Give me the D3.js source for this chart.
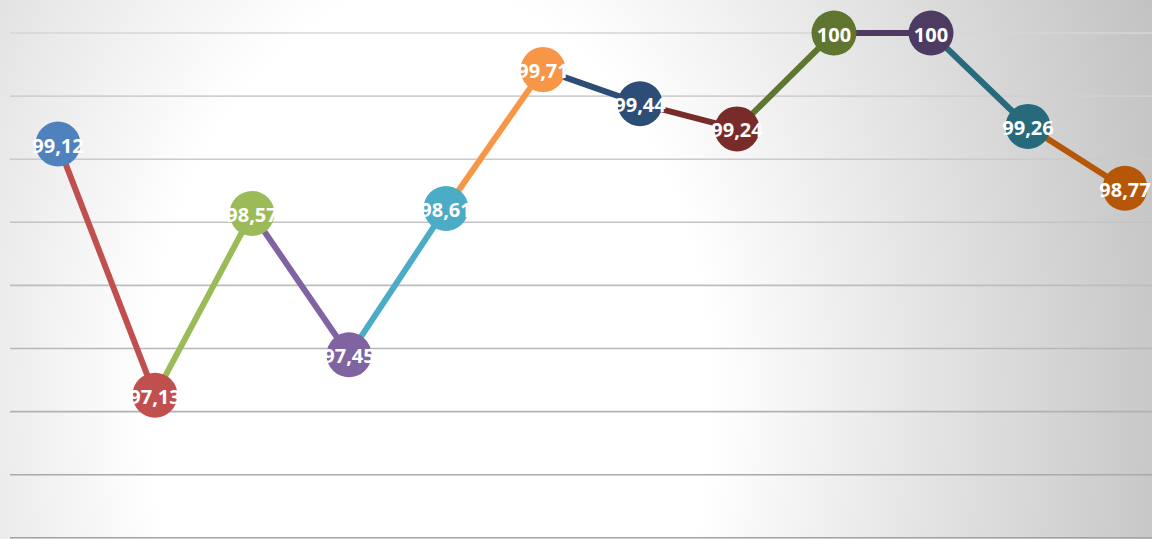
<!DOCTYPE html>
<html><head><meta charset="utf-8">
<script src="https://cdn.jsdelivr.net/npm/d3@7"></script>
<style>html,body{margin:0;padding:0;overflow:hidden;background:#fff}</style>
</head><body>
<svg id="chart" width="1152" height="539"></svg>
<script>
const categories = ["1","2","3","4","5","6","7","8","9","10","11","12"];
const values = [99.12, 97.13, 98.57, 97.45, 98.61, 99.71, 99.44, 99.24, 100, 100, 99.26, 98.77];
const pointColors = ["#4F81BD","#C0504D","#9BBB59","#8064A2","#4BACC6","#F79646","#2C4D75","#772C2A","#5F7530","#4D3B62","#276A7C","#B65708"];
const gridTicks = [96, 96.5, 97, 97.5, 98, 98.5, 99, 99.5, 100];

const W = 1152, H = 539;
const svg = d3.select("#chart");
const defs = svg.append("defs");
const rg = defs.append("radialGradient").attr("id","bg").attr("gradientUnits","userSpaceOnUse")
  .attr("cx",430).attr("cy",400).attr("r",1000)
  .attr("gradientTransform","translate(430,400) scale(1,1.46) translate(-430,-400)");
rg.append("stop").attr("offset",0).attr("stop-color","#ffffff");
rg.append("stop").attr("offset",0.28).attr("stop-color","#ffffff");
rg.append("stop").attr("offset",1).attr("stop-color","#a6a6a6");
svg.append("rect").attr("width",W).attr("height",H).attr("fill","url(#bg)");

const x = d3.scalePoint().domain(categories).range([58, 1125]);
const y = d3.scaleLinear().domain([96, 100]).range([537.8, 33]);

const gridColor = d3.scaleLinear().domain([100, 96]).range(["#d6d6d6","#a4a4a4"]);
svg.append("g").selectAll("line").data(gridTicks).join("line")
  .attr("x1",10).attr("x2",W).attr("y1",d=>y(d)).attr("y2",d=>y(d))
  .attr("stroke",d=>gridColor(d)).attr("stroke-width",1.6);

const segs = values.slice(1).map((v,i)=>({a:i, b:i+1}));
svg.append("g").selectAll("line").data(segs).join("line")
  .attr("x1",d=>x(categories[d.a])).attr("y1",d=>y(values[d.a]))
  .attr("x2",d=>x(categories[d.b])).attr("y2",d=>y(values[d.b]))
  .attr("stroke",d=>pointColors[d.b]).attr("stroke-width",6);

svg.append("g").selectAll("circle").data(values).join("circle")
  .attr("cx",(d,i)=>x(categories[i])).attr("cy",d=>y(d)).attr("r",22.5)
  .attr("fill",(d,i)=>pointColors[i]);

const fmt = v => (v === 100 ? "100" : v.toFixed(2).replace(".", ","));
svg.append("g").selectAll("text").data(values).join("text")
  .attr("x",(d,i)=>x(categories[i])).attr("y",d=>y(d)+1)
  .attr("text-anchor","middle").attr("dominant-baseline","central")
  .attr("fill","#ffffff").attr("font-family","'Open Sans', sans-serif")
  .attr("font-weight","bold").attr("font-size",20)
  .text(d=>fmt(d));
</script>
</body></html>
